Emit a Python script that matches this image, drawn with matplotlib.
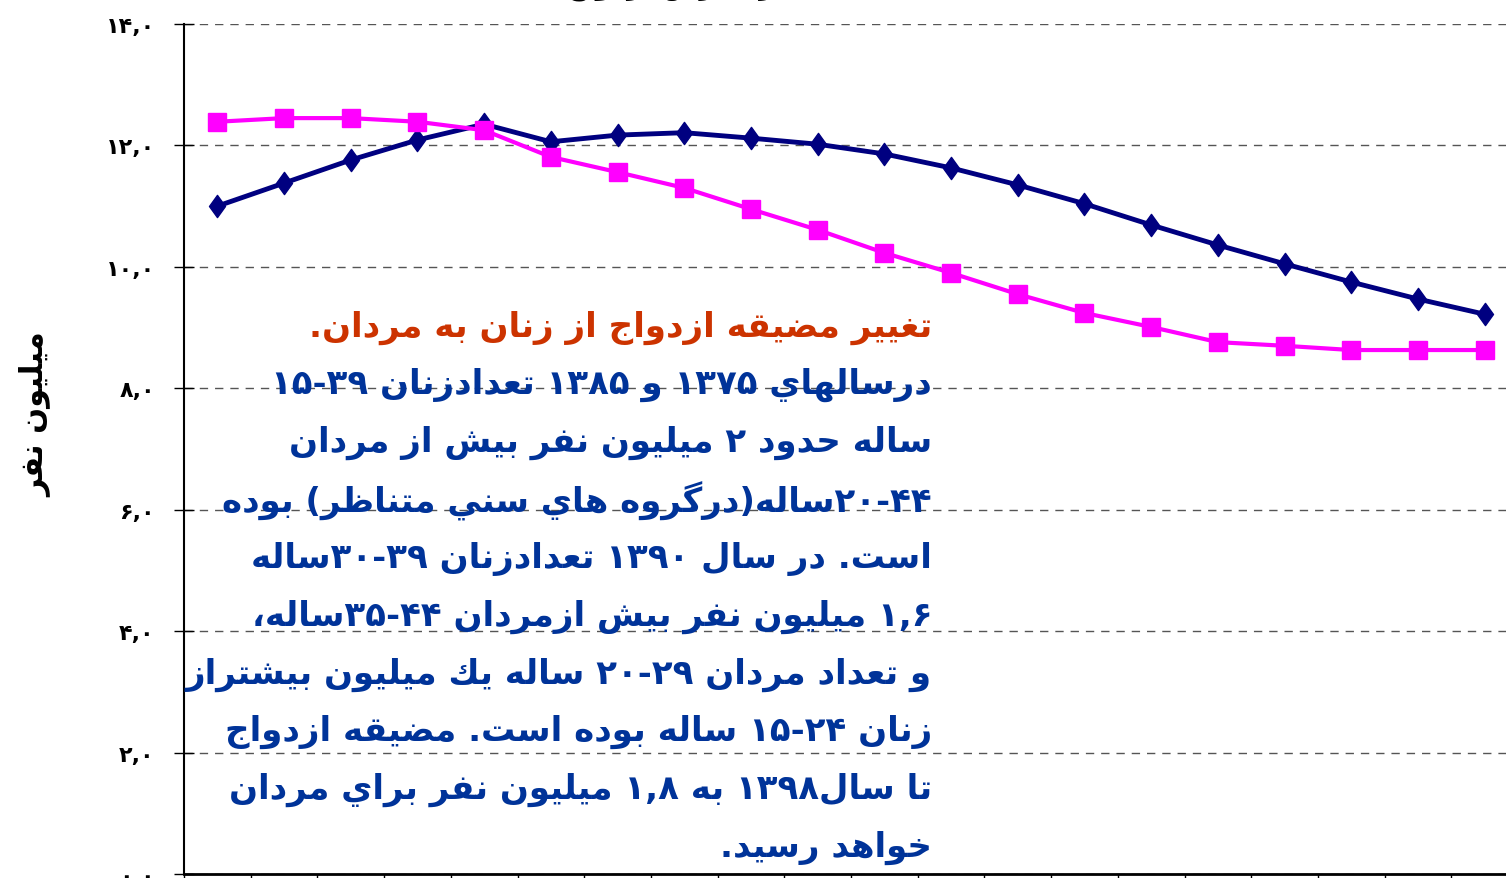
import re
import numpy as np
import matplotlib
matplotlib.use('Agg')
import matplotlib.pyplot as plt
from matplotlib.path import Path

# values (million people)
mardan = [11.00, 11.38, 11.76, 12.09, 12.35, 12.06, 12.17, 12.21, 12.12, 12.02,
          11.86, 11.63, 11.35, 11.04, 10.69, 10.36, 10.05, 9.75, 9.47, 9.22]
zanan = [12.39, 12.45, 12.45, 12.39, 12.25, 11.81, 11.56, 11.30, 10.95, 10.61,
         10.23, 9.90, 9.55, 9.24, 9.01, 8.76, 8.70, 8.63, 8.63, 8.63]
y_ticks = [0, 2, 4, 6, 8, 10, 12, 14]
y_ticklabels = ['۰,۰', '۲,۰', '۴,۰', '۶,۰', '۸,۰', '۱۰,۰', '۱۲,۰', '۱۴,۰']
y_label = 'ميليون نفر'
title = 'جمعيت در معرض ازدواج'
head_line = 'تغيير مضيقه ازدواج از زنان به مردان.'
body_lines = [
    'درسالهاي ۱۳۷۵ و ۱۳۸۵ تعدادزنان ۱۵-۳۹',
    'ساله حدود ۲ ميليون نفر بيش از مردان',
    '۲۰-۴۴ساله(درگروه هاي سني متناظر) بوده',
    'است. در سال ۱۳۹۰ تعدادزنان ۳۰-۳۹ساله',
    '۱,۶ ميليون نفر بيش ازمردان ۳۵-۴۴ساله،',
    'و تعداد مردان ۲۰-۲۹ ساله يك ميليون بيشتراز',
    'زنان ۱۵-۲۴ ساله بوده است. مضيقه ازدواج',
    'تا سال۱۳۹۸ به ۱,۸ ميليون نفر براي مردان',
    'خواهد رسيد.',
]

# --- minimal arabic shaping + right-to-left ordering (matplotlib has none) ---
DUAL = {'ئ': 0xFE89, 'ب': 0xFE8F, 'ت': 0xFE95, 'ث': 0xFE99, 'ج': 0xFE9D, 'ح': 0xFEA1,
        'خ': 0xFEA5, 'س': 0xFEB1, 'ش': 0xFEB5, 'ص': 0xFEB9, 'ض': 0xFEBD, 'ط': 0xFEC1,
        'ظ': 0xFEC5, 'ع': 0xFEC9, 'غ': 0xFECD, 'ف': 0xFED1, 'ق': 0xFED5, 'ك': 0xFED9,
        'ل': 0xFEDD, 'م': 0xFEE1, 'ن': 0xFEE5, 'ه': 0xFEE9, 'ي': 0xFEF1, 'پ': 0xFB56,
        'چ': 0xFB7A, 'ک': 0xFB8E, 'گ': 0xFB92, 'ی': 0xFBFC}
RIGHT = {'آ': 0xFE81, 'أ': 0xFE83, 'ؤ': 0xFE85, 'إ': 0xFE87, 'ا': 0xFE8D, 'ة': 0xFE93,
         'د': 0xFEA9, 'ذ': 0xFEAB, 'ر': 0xFEAD, 'ز': 0xFEAF, 'و': 0xFEED, 'ى': 0xFEEF,
         'ژ': 0xFB8A}


def fa(s):
    out = []
    for i, c in enumerate(s):
        if c not in DUAL and c not in RIGHT:
            out.append(c)
            continue
        prev = s[i - 1] if i > 0 else ''
        nxt = s[i + 1] if i + 1 < len(s) else ''
        jp = prev in DUAL
        jn = c in DUAL and (nxt in DUAL or nxt in RIGHT)
        base = DUAL.get(c, RIGHT.get(c))
        if jp and jn:
            base += 3
        elif jp:
            base += 1
        elif jn:
            base += 2
        out.append(chr(base))
    vis = ''.join(reversed(out))
    vis = vis.translate(str.maketrans('()', ')('))
    vis = re.sub(r'[۰-۹0-9]+(?:[,\-][۰-۹0-9]+)*', lambda m: m.group(0)[::-1], vis)
    return vis


W, H = 1506, 879
fig = plt.figure(figsize=(W / 100, H / 100), dpi=100)
ax = fig.add_axes([184 / W, 4 / H, 1334 / W, 850 / H])

x = np.arange(len(mardan))
tall_diamond = Path([(0, 1), (0.72, 0), (0, -1), (-0.72, 0), (0, 1)],
                    [Path.MOVETO, Path.LINETO, Path.LINETO, Path.LINETO, Path.CLOSEPOLY])
ax.plot(x, mardan, color='#000080', lw=3.5, marker=tall_diamond, ms=16, zorder=3)
ax.plot(x, zanan, color='#FF00FF', lw=3, marker='s', ms=13.5, zorder=3)

ax.set_xlim(-0.5, len(mardan) - 0.5)
ax.set_ylim(0, 14)
ax.set_yticks(y_ticks)
ax.set_yticklabels([fa(t) for t in y_ticklabels], fontsize=16, fontweight='bold',
                   family='DejaVu Sans')
ax.set_xticks(np.arange(-0.5, len(mardan), 1))
ax.set_xticklabels([])
ax.tick_params(axis='y', direction='inout', length=14, width=1, pad=14)
ax.tick_params(axis='x', direction='out', length=6, width=1)
ax.grid(axis='y', color='#555555', linestyle=(0, (6, 5)), lw=1)
ax.spines['top'].set_visible(False)
ax.spines['right'].set_visible(False)
ax.spines['left'].set_linewidth(1.5)
ax.spines['bottom'].set_linewidth(2)

fig.text(35 / W, 1 - 415 / H, fa(y_label), rotation=90, ha='center', va='center',
         fontsize=22, fontweight='bold', family='DejaVu Sans')
# title sits mostly above the canvas, as in the reference
fig.text(730 / W, 1 + 6 / H, fa(title), ha='center', va='baseline',
         fontsize=20, fontweight='bold', family='DejaVu Sans')

fig.text(932 / W, 1 - 328 / H, fa(head_line), ha='right', va='center',
         fontsize=24.5, fontweight='bold', color='#CC3300', family='DejaVu Sans', zorder=5)
for i, line in enumerate(body_lines):
    fig.text(932 / W, 1 - (385 + i * 57.9) / H, fa(line), ha='right', va='center',
             fontsize=24.5, fontweight='bold', color='#003399', family='DejaVu Sans', zorder=5)

fig.savefig('out.png', dpi=100)
